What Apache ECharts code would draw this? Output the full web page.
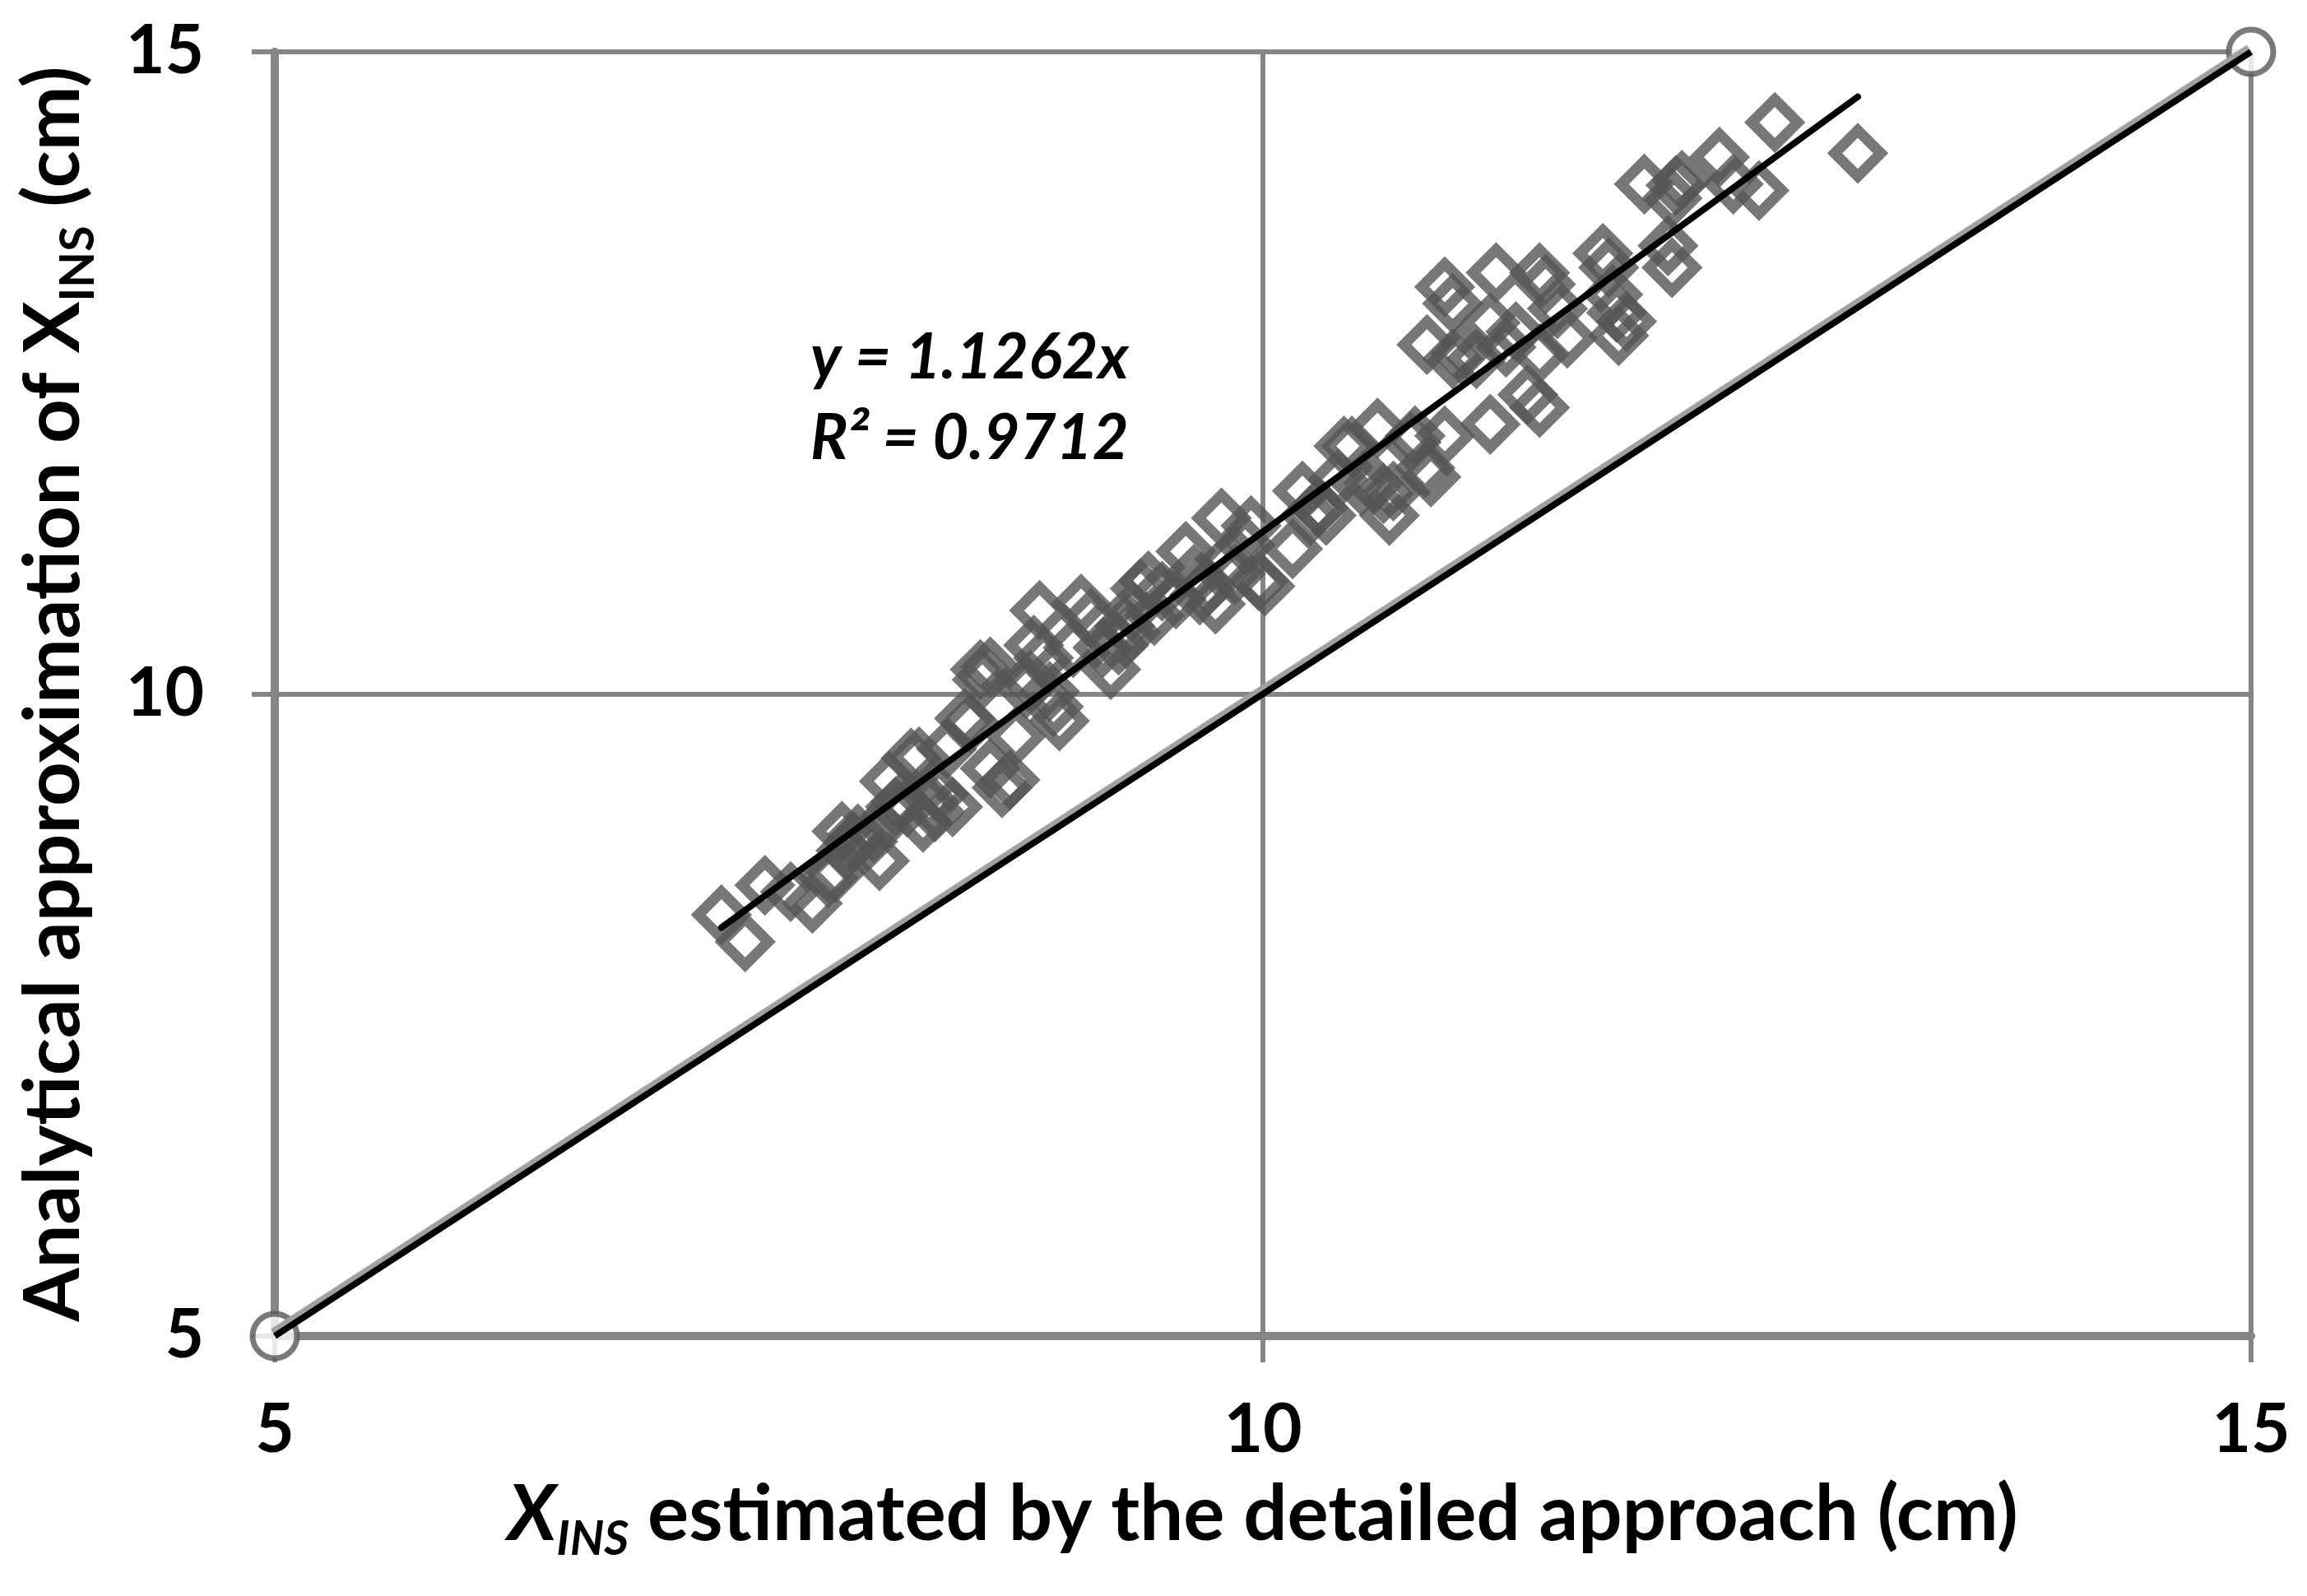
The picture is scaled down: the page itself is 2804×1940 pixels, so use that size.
<!DOCTYPE html>
<html>
<head>
<meta charset="utf-8">
<script src="https://cdn.jsdelivr.net/npm/echarts@6/dist/echarts.min.js"></script>
<style>
html,body{margin:0;padding:0;background:#fff;}
#chart{width:2804px;height:1940px;}
</style>
</head>
<body>
<div id="chart"></div>
<script>
// ---- data ----
const xTicks = [5, 10, 15];
const yTicks = [5, 10, 15];
const pointsX = [7.26,7.38,7.48,7.61,7.72,7.80,7.84,7.87,7.93,7.95,8.00,8.06,8.11,8.14,8.17,8.22,8.26,8.28,8.31,8.34,8.40,8.43,8.49,8.52,8.57,8.58,8.62,8.62,8.68,8.72,8.75,8.80,8.84,8.87,8.89,8.92,8.97,9.04,9.08,9.13,9.19,9.23,9.27,9.30,9.34,9.38,9.42,9.49,9.56,9.61,9.65,9.68,9.72,9.76,9.79,9.82,9.86,9.91,9.94,9.98,10.01,
  10.15,10.20,10.24,10.28,10.32,10.38,10.41,10.45,10.50,10.56,10.58,10.61,10.64,10.66,10.75,10.77,10.82,10.85,10.92,10.83,10.92,10.96,10.96,11.00,11.08,11.15,11.15,11.18,11.23,11.28,11.34,11.40,11.40,11.40,11.43,11.49,11.54,
  11.72,11.75,11.77,11.79,11.80,11.84,11.93,12.05,12.07,12.09,12.07,12.12,12.31,12.38,12.51,12.59,13.01,
  7.89,8.03,8.20,8.36,8.82,8.94,9.33,9.45];
const pointsY = [8.28,8.07,8.51,8.46,8.37,8.57,8.61,8.93,8.85,8.91,8.85,8.70,9.32,9.12,9.16,9.50,9.51,9.00,9.16,9.08,9.57,9.12,9.81,9.77,10.19,10.11,10.21,9.42,9.27,9.33,9.67,10.04,10.38,10.65,10.28,10.02,9.79,10.36,10.70,10.59,10.36,10.19,10.38,10.53,10.65,10.82,10.88,10.80,10.74,11.11,10.93,10.77,10.84,10.70,11.37,11.03,10.93,11.16,11.31,10.88,10.84,
  11.13,11.58,11.39,11.45,11.39,11.67,11.93,11.93,11.62,11.64,12.07,11.56,11.39,11.58,11.96,12.01,11.76,11.69,12.01,12.72,13.17,13.04,12.61,12.65,12.61,12.89,12.10,13.28,12.70,12.82,12.33,12.23,12.65,13.28,13.19,13.00,12.77,
  13.43,13.32,13.11,12.97,12.79,12.90,13.97,13.49,13.32,13.96,13.86,14.00,14.18,13.97,13.92,14.45,14.21,
  8.78,8.92,9.12,9.22,10.11,9.90,10.48,10.61];
const oneToOneX = [5, 15];
const oneToOneY = [5, 15];
const fitX = [7.26, 13.01];
const fitY = [8.18, 14.65];
const fitText = ['y = 1.1262x', 'R² = 0.9712'];

const FONT = 'Lato';
const scatterData = pointsX.map((x, i) => [x, pointsY[i]]);
const oneData = oneToOneX.map((x, i) => [x, oneToOneY[i]]);
const fitData = fitX.map((x, i) => [x, fitY[i]]);

const chart = echarts.init(document.getElementById('chart'), null, {renderer: 'canvas'});
const gridColor = '#868686';
chart.setOption({
  animation: false,
  backgroundColor: '#ffffff',
  grid: {left: 334, top: 63, width: 2402, height: 1561, containLabel: false},
  xAxis: {
    type: 'value', min: xTicks[0], max: xTicks[xTicks.length - 1], interval: 5,
    axisLine: {show: true, onZero: false, lineStyle: {color: gridColor, width: 10}},
    axisTick: {show: true, length: 32, lineStyle: {color: gridColor, width: 6}},
    splitLine: {show: true, lineStyle: {color: gridColor, width: 6}},
    axisLabel: {margin: 74, color: '#000', fontFamily: FONT, fontWeight: 'bold', fontSize: 82},
    name: '{i|X}{s|INS}{n| estimated by the detailed approach (cm)}',
    nameLocation: 'middle', nameGap: 160,
    nameTextStyle: {
      color: '#000', fontFamily: FONT, fontWeight: 'bold', fontSize: 94,
      rich: {
        i: {fontFamily: FONT, fontWeight: 'bold', fontStyle: 'italic', fontSize: 94, color: '#000', lineHeight: 116},
        s: {fontFamily: FONT, fontWeight: 'bold', fontStyle: 'italic', fontSize: 58, color: '#000', lineHeight: 36, verticalAlign: 'bottom'},
        n: {fontFamily: FONT, fontWeight: 'bold', fontSize: 94, color: '#000', lineHeight: 116}
      }
    }
  },
  yAxis: {
    type: 'value', min: yTicks[0], max: yTicks[yTicks.length - 1], interval: 5,
    axisLine: {show: true, onZero: false, lineStyle: {color: gridColor, width: 10}},
    axisTick: {show: true, length: 28, lineStyle: {color: gridColor, width: 6}},
    splitLine: {show: true, lineStyle: {color: gridColor, width: 6}},
    axisLabel: {margin: 86, color: '#000', fontFamily: FONT, fontWeight: 'bold', fontSize: 82},
    name: '{n|Analytical approximation of X}{s|INS}{n| (cm)}',
    nameLocation: 'middle', nameGap: 210, nameRotate: 90,
    nameTextStyle: {
      color: '#000', fontFamily: FONT, fontWeight: 'bold', fontSize: 94,
      rich: {
        n: {fontFamily: FONT, fontWeight: 'bold', fontSize: 94, color: '#000', lineHeight: 116},
        s: {fontFamily: FONT, fontWeight: 'bold', fontSize: 57, color: '#000', lineHeight: 36, verticalAlign: 'bottom'}
      }
    }
  },
  graphic: [{
    type: 'text', left: 985, top: 386, z: 100,
    style: {
      text: fitText.join('\n'),
      font: 'italic bold 76px ' + FONT,
      fill: '#000', lineHeight: 98
    }
  }],
  series: [
    {
      type: 'scatter', data: oneData, symbol: 'circle', symbolSize: 54, z: 3,
      itemStyle: {color: '#ffffff', borderColor: '#595959', borderWidth: 7}
    },
    {
      type: 'line', data: oneData, showSymbol: false, z: 4, clip: false,
      lineStyle: {color: '#000', width: 8, shadowColor: '#a0a0a0', shadowBlur: 1, shadowOffsetX: -3, shadowOffsetY: -5}
    },
    {
      type: 'scatter', data: scatterData, symbol: 'diamond', symbolSize: [56, 56], z: 5,
      itemStyle: {color: 'rgba(0,0,0,0)', borderColor: '#555555', borderWidth: 13}
    },
    {
      type: 'line', data: fitData, showSymbol: false, z: 6,
      lineStyle: {color: '#000', width: 8, cap: 'round'}
    }
  ]
});
</script>
</body>
</html>
